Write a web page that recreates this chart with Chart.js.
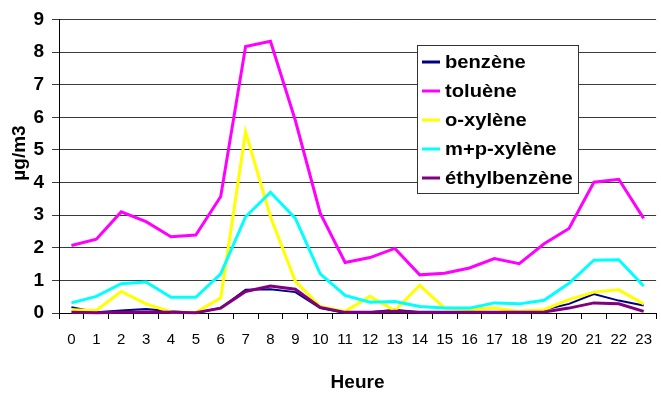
<!DOCTYPE html>
<html>
<head>
<meta charset="utf-8">
<script src="https://cdn.jsdelivr.net/npm/chart.js@4/dist/chart.umd.min.js"></script>
<style>
  html, body { margin: 0; padding: 0; background: #fff; overflow: hidden; }
  canvas { display: block; }
</style>
</head>
<body>
<canvas id="chart" width="664" height="394"></canvas>
<script>
// hourly concentrations (µg/m3)
const heures = ['0','1','2','3','4','5','6','7','8','9','10','11','12','13','14','15','16','17','18','19','20','21','22','23'];
const benzene = [0.18,0.02,0.08,0.12,0.05,0.01,0.15,0.71,0.73,0.64,0.15,0.00,0.02,0.10,0.02,0.01,0.01,0.01,0.01,0.10,0.28,0.58,0.38,0.23];
const toluene = [2.07,2.26,3.10,2.80,2.34,2.39,3.57,8.17,8.33,5.90,3.06,1.55,1.70,1.98,1.17,1.22,1.38,1.67,1.51,2.12,2.59,4.01,4.10,2.90];
const oXylene = [0.10,0.08,0.66,0.28,0.03,0.02,0.46,5.55,2.95,0.97,0.20,0.05,0.51,0.07,0.85,0.15,0.10,0.15,0.05,0.10,0.41,0.64,0.71,0.28];
const mpXylene = [0.31,0.51,0.90,0.95,0.48,0.48,1.20,2.95,3.70,2.90,1.20,0.54,0.33,0.35,0.20,0.15,0.15,0.31,0.28,0.39,0.91,1.62,1.63,0.83];
const ethylbenzene = [0.02,0.01,0.02,0.03,0.02,0.01,0.15,0.66,0.83,0.73,0.17,0.02,0.02,0.05,0.02,0.02,0.02,0.02,0.02,0.03,0.15,0.31,0.28,0.05];

const yTicks = [0,1,2,3,4,5,6,7,8,9];

const FONT = '"Liberation Sans", Arial, sans-serif';

function serie(label, data, color, width, order) {
  return {
    label: label,
    data: data,
    borderColor: color,
    backgroundColor: color,
    borderWidth: width,
    pointRadius: 0,
    tension: 0,
    clip: false,
    order: order,
  };
}

// legend box drawn inside the plot, like the excel one
const boxLegend = {
  id: 'boxLegend',
  afterDatasetsDraw(chart) {
    const ctx = chart.ctx;
    const x = 417, y = 45, w = 161, h = 148;
    ctx.save();
    ctx.fillStyle = '#fff';
    ctx.fillRect(x, y, w, h);
    ctx.strokeStyle = '#333';
    ctx.lineWidth = 1;
    ctx.strokeRect(x + 0.5, y + 0.5, w, h);
    ctx.textBaseline = 'middle';
    chart.data.datasets.forEach((ds, i) => {
      const cy = 62 + i * 29;
      ctx.strokeStyle = ds.borderColor;
      ctx.lineWidth = 3;
      ctx.beginPath();
      ctx.moveTo(422, cy);
      ctx.lineTo(440, cy);
      ctx.stroke();
      // excel text looks a bit wider than the font
      ctx.save();
      ctx.translate(445, cy + 1);
      ctx.scale(1.12, 1);
      ctx.font = 'bold 18px ' + FONT;
      ctx.fillStyle = '#000';
      ctx.fillText(ds.label, 0, 0);
      ctx.restore();
    });
    ctx.restore();
  }
};

new Chart(document.getElementById('chart'), {
  type: 'line',
  data: {
    labels: heures,
    datasets: [
      serie('benzène', benzene, '#000080', 2, 4),
      serie('toluène', toluene, '#FF00FF', 3, 3),
      serie('o-xylène', oXylene, '#FFFF00', 3, 2),
      serie('m+p-xylène', mpXylene, '#00FFFF', 3, 1),
      serie('éthylbenzène', ethylbenzene, '#800080', 3, 0),
    ],
  },
  options: {
    responsive: false,
    animation: false,
    layout: { padding: { top: 19, right: 0, left: 0, bottom: 0 } },
    plugins: {
      legend: { display: false },
      tooltip: { enabled: false },
    },
    scales: {
      x: {
        offset: true,
        grid: { offset: true, drawOnChartArea: false, tickLength: 6, color: '#000' },
        border: { color: '#000', width: 1 },
        ticks: {
          color: '#000',
          font: { family: FONT, size: 15 },
          padding: 12,
          maxRotation: 0,
          autoSkip: false,
        },
        title: {
          display: true,
          text: 'Heure',
          color: '#000',
          font: { family: FONT, size: 19, weight: 'bold' },
          padding: { top: 0, bottom: 0 },
        },
        afterFit(scale) { scale.height = 81; },
      },
      y: {
        min: 0,
        max: 9,
        afterBuildTicks(scale) { scale.ticks = yTicks.map(v => ({ value: v })); },
        grid: { color: '#3a3a3a', tickLength: 7 },
        border: { color: '#000', width: 1 },
        ticks: {
          color: '#000',
          font: { family: FONT, size: 19, weight: 'bold' },
          padding: 8,
        },
        title: {
          display: true,
          // leading spaces push the title up a little, as in the original
          text: '\u00a0\u00a0\u00a0\u00a0\u00a0µg/m3',
          color: '#000',
          font: { family: FONT, size: 19, weight: 'bold' },
          padding: { top: 8, bottom: 0 },
        },
        afterFit(scale) { scale.width = 59; },
      },
    },
  },
  plugins: [boxLegend],
});
</script>
</body>
</html>
